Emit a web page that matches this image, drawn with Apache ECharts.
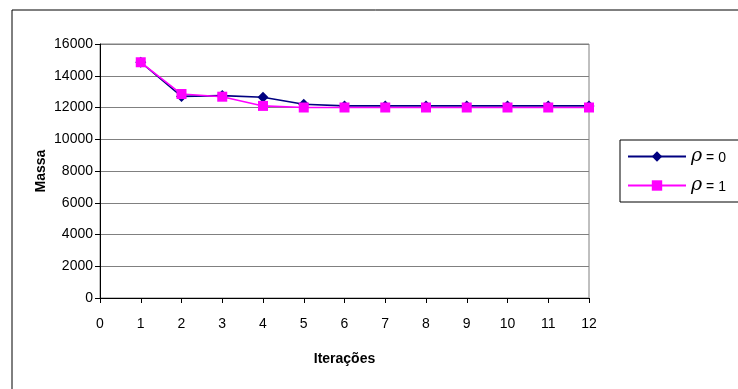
<!DOCTYPE html>
<html>
<head>
<meta charset="utf-8">
<script src="https://cdn.jsdelivr.net/npm/echarts@6/dist/echarts.min.js"></script>
<style>
  html, body { margin: 0; padding: 0; background: #fff; }
  #chart { width: 738px; height: 389px; }
</style>
</head>
<body>
<div id="chart"></div>
<script>
var iteracoes = [1, 2, 3, 4, 5, 6, 7, 8, 9, 10, 11, 12];
var massaRho0 = [14850, 12700, 12750, 12650, 12200, 12100, 12100, 12100, 12100, 12100, 12100, 12100];
var massaRho1 = [14850, 12850, 12680, 12100, 12000, 12000, 12000, 12000, 12000, 12000, 12000, 12000];
var nomes = ['rho0', 'rho1'];

var chart = echarts.init(document.getElementById('chart'));

function pares(xs, ys) {
    return xs.map(function (x, i) { return [x, ys[i]]; });
}

var option = {
    animation: false,
    textStyle: { fontFamily: 'Liberation Sans' },
    graphic: [{
        type: 'rect',
        shape: { x: 12, y: 10, width: 740, height: 400 },
        style: { fill: 'none', stroke: '#000', lineWidth: 1 },
        z: 0
    }],
    grid: {
        left: 100, right: 149, top: 44, bottom: 91,
        show: true, borderColor: '#808080', borderWidth: 1
    },
    xAxis: {
        type: 'value',
        min: 0, max: 12, interval: 1,
        name: 'Iterações',
        nameLocation: 'middle',
        nameGap: 54,
        nameTextStyle: { fontSize: 14, fontWeight: 'bold', color: '#000' },
        axisLine: { lineStyle: { color: '#000' } },
        axisTick: { show: true, length: 5, lineStyle: { color: '#000' } },
        axisLabel: { fontSize: 14, color: '#000', margin: 19 },
        splitLine: { show: false }
    },
    yAxis: {
        type: 'value',
        min: 0, max: 16000, interval: 2000,
        name: 'Massa',
        nameLocation: 'middle',
        nameGap: 52,
        nameMoveOverlap: false,
        nameTextStyle: { fontSize: 14, fontWeight: 'bold', color: '#000' },
        axisLine: { show: true, lineStyle: { color: '#000' } },
        axisTick: { show: true, length: 5, lineStyle: { color: '#000' } },
        axisLabel: { fontSize: 14, color: '#000', margin: 7, formatter: function (v) { return String(v); } },
        splitLine: { show: true, lineStyle: { color: '#808080', width: 1 } }
    },
    legend: {
        left: 620, top: 140,
        orient: 'vertical',
        padding: [7, 40, 7, 7],
        itemGap: 10,
        itemWidth: 58, itemHeight: 13,
        borderColor: '#000', borderWidth: 1, borderRadius: 0,
        backgroundColor: '#fff',
        data: nomes,
        formatter: function (n) {
            return '{r|ρ}{v| = ' + (n === 'rho0' ? '0' : '1') + '}';
        },
        textStyle: {
            rich: {
                r: { fontSize: 19, fontStyle: 'italic', color: '#000', fontFamily: 'DejaVu Serif' },
                v: { fontSize: 14, color: '#000', padding: [4, 0, 0, 0] }
            }
        }
    },
    series: [{
        name: nomes[0],
        type: 'line',
        data: pares(iteracoes, massaRho0),
        symbol: 'diamond',
        symbolSize: 11,
        itemStyle: { color: '#000080' },
        lineStyle: { color: '#000080', width: 1.6 }
    }, {
        name: nomes[1],
        type: 'line',
        data: pares(iteracoes, massaRho1),
        symbol: 'rect',
        symbolSize: 10,
        itemStyle: { color: '#ff00ff' },
        lineStyle: { color: '#ff00ff', width: 1.6 }
    }]
};

chart.setOption(option);
</script>
</body>
</html>
